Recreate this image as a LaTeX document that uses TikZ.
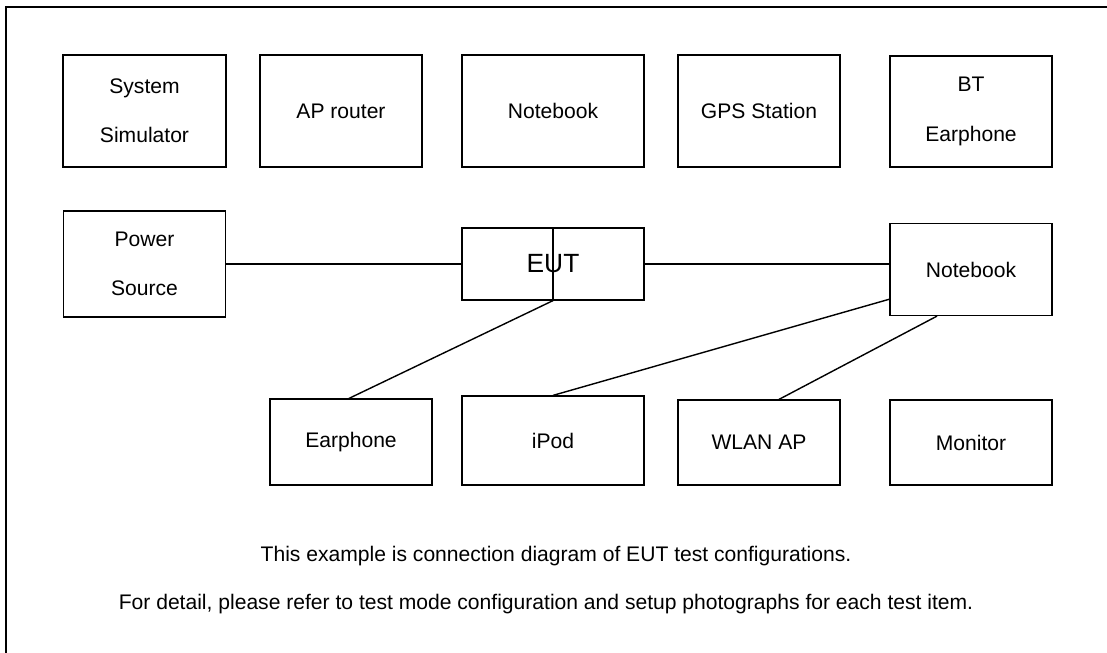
\documentclass[tikz,border=0pt]{standalone}
\usepackage{fontspec}
\setmainfont{Liberation Sans}
\usetikzlibrary{calc, positioning}

\begin{document}
\begin{tikzpicture}[x=0.02cm, y=-0.02cm,
  every node/.style={inner sep=0pt},
  unit/.style={draw, line width=0.7pt, align=center,
    minimum width=3.24cm, minimum height=2.24cm,
    font=\fontsize{12}{28}\selectfont},
  wide/.style={unit, minimum width=3.64cm},
  link/.style={line width=0.8pt},
  remark/.style={font=\fontsize{12}{14}\selectfont}
 ]
 \useasboundingbox (0,0) rectangle (1107,653);
 \draw [line width=1.2pt] (6,653) -- (6,7) -- (1107,7);

 % top row
 \node [unit, minimum width=3.26cm] (Sim) at (144.5,111) {System\\Simulator};
 \node [unit] (AP) at (341,111) {AP router};
 \node [wide] (NBtop) at (553,111) {Notebook};
 \node [unit] (GPS) at (759,111) {GPS Station};
 \node [unit, minimum height=2.22cm] (BT) at (971,111.5) {BT\\Earphone};

 % middle row
 \node [unit, minimum height=2.12cm] (Pwr) at (144.5,264) {Power\\Source};
 \node [wide, minimum height=1.44cm, font=\fontsize{15}{18}\selectfont] (EUT) at (553,264) {EUT};
 \node [unit, minimum height=1.84cm] (NB) at (971,269.5) {Notebook};

 % bottom row
 \node [unit, minimum height=1.72cm] (Ear) at (351,442) {Earphone};
 \node [wide, minimum height=1.78cm] (iPod) at (553,440.5) {iPod};
 \node [unit, minimum height=1.70cm] (WLAN) at (759,442.5) {WLAN AP};
 \node [unit, minimum height=1.70cm] (Mon) at (971,442.5) {Monitor};

 \draw [link] (Pwr.east) -- (EUT.west);
 \draw [link] (EUT.east) -- (EUT.east -| NB.west);
 \draw [link] (EUT.north) -- (EUT.south);
 \draw [link] (EUT.south) -- ($(Ear.north)+(-2,0)$);
 \draw [link] (NB.200) -- (iPod.north);
 \draw [link] ($(NB.south)+(-34,0)$) -- ($(WLAN.north)+(20,0)$);

 \node [remark] (N1) at (556,556) {This example is connection diagram of EUT test configurations.};
 \node [remark] (N2) at (546,604) {For detail, please refer to test mode configuration and setup photographs for each test item.};
\end{tikzpicture}
\end{document}
